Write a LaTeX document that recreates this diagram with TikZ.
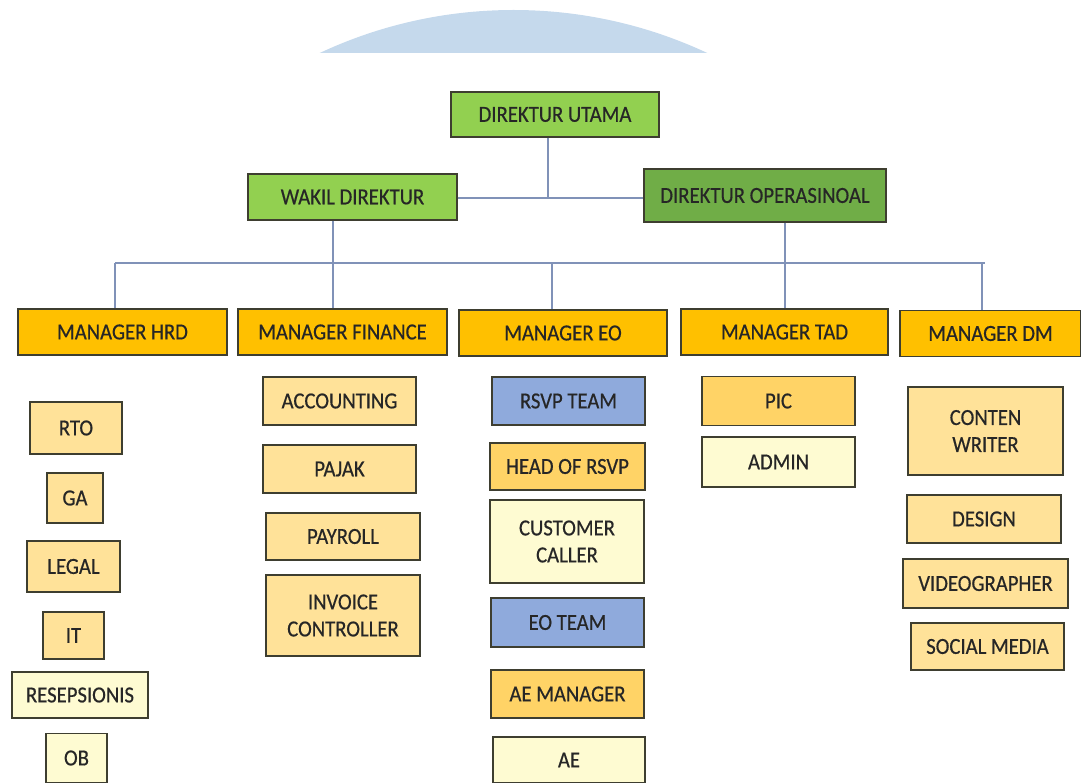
\documentclass[tikz,border=0pt]{standalone}
\usepackage{fontspec}
\setmainfont{Carlito}[FakeStretch=0.9, FakeBold=0.5]
\usepackage{xcolor}

\definecolor{hijau}{RGB}{146,208,80}
\definecolor{hijautua}{RGB}{112,173,71}
\definecolor{emas}{RGB}{255,192,0}
\definecolor{krem}{RGB}{255,226,153}
\definecolor{jingga}{RGB}{255,211,102}
\definecolor{pucat}{RGB}{254,251,210}
\definecolor{biru}{RGB}{143,170,220}
\definecolor{garis}{RGB}{128,146,184}
\definecolor{tepi}{RGB}{62,62,48}
\definecolor{tanda}{RGB}{197,217,236}

\begin{document}
\begin{tikzpicture}[
        x=1pt, y=-1pt,
        box/.style={draw=tepi, line width=1.1pt, text=black!85, align=center, inner sep=0pt, font=\fontsize{23}{27}\selectfont},
        mgr/.style={box, fill=emas, minimum height=46pt},
        sub/.style={box, fill=krem},
        link/.style={draw=garis, line width=1.3pt}
    ]
        \useasboundingbox (0,0) rectangle (1081,783);

        % watermark di atas
        \begin{scope}
            \clip (300,0) rectangle (730,53);
            \fill[tanda] (513.5,467) circle[radius=457pt];
        \end{scope}

        % direksi
        \node[box, fill=hijau, minimum width=208pt, minimum height=45pt] (dirut) at (555,114.5) {DIREKTUR UTAMA};
        \node[box, fill=hijau, minimum width=209pt, minimum height=46pt] (wakil) at (352.5,197) {WAKIL DIREKTUR};
        \node[box, fill=hijautua, minimum width=242pt, minimum height=53pt] (dirops) at (765,195.5) {DIREKTUR OPERASINOAL};

        % manager
        \node[mgr, minimum width=209pt] (hrd) at (122.5,332) {MANAGER HRD};
        \node[mgr, minimum width=209pt] (fin) at (342.5,332) {MANAGER FINANCE};
        \node[mgr, minimum width=208pt] (eo) at (563,333) {MANAGER EO};
        \node[mgr, minimum width=207pt] (tad) at (784.5,332) {MANAGER TAD};
        \node[mgr, minimum width=181pt] (dm) at (990.5,333.5) {MANAGER DM};

        % HRD
        \node[sub, minimum width=92pt, minimum height=52pt] (rto) at (76,428) {RTO};
        \node[sub, minimum width=56pt, minimum height=50pt] (ga) at (75,498) {GA};
        \node[sub, minimum width=93pt, minimum height=51pt] (legal) at (73.5,566.5) {LEGAL};
        \node[sub, minimum width=61pt, minimum height=47pt] (it) at (73.5,635.5) {IT};
        \node[sub, fill=pucat, minimum width=136pt, minimum height=46pt] (resep) at (80,695) {RESEPSIONIS};
        \node[sub, fill=pucat, minimum width=61pt, minimum height=49pt] (ob) at (76.5,758) {OB};

        % finance
        \node[sub, minimum width=153pt, minimum height=48pt] (acc) at (339.5,401) {ACCOUNTING};
        \node[sub, minimum width=153pt, minimum height=48pt] (pajak) at (339.5,469) {PAJAK};
        \node[sub, minimum width=154pt, minimum height=47pt] (payroll) at (343,536.5) {PAYROLL};
        \node[sub, minimum width=154pt, minimum height=81pt] (invoice) at (343,615.5) {INVOICE\\CONTROLLER};

        % EO
        \node[sub, fill=biru, minimum width=153pt, minimum height=48pt] (rsvp) at (568.5,401) {RSVP TEAM};
        \node[sub, fill=jingga, minimum width=155pt, minimum height=47pt] (head) at (567.5,466.5) {HEAD OF RSVP};
        \node[sub, fill=pucat, minimum width=154pt, minimum height=83pt] (caller) at (567,541.5) {CUSTOMER\\CALLER};
        \node[sub, fill=biru, minimum width=153pt, minimum height=49pt] (eoteam) at (567.5,622.5) {EO TEAM};
        \node[sub, fill=jingga, minimum width=153pt, minimum height=48pt] (aem) at (567.5,694) {AE MANAGER};
        \node[sub, fill=pucat, minimum width=152pt, minimum height=46pt] (ae) at (569,760) {AE};

        % TAD
        \node[sub, fill=jingga, minimum width=153pt, minimum height=49pt] (pic) at (778.5,401) {PIC};
        \node[sub, fill=pucat, minimum width=153pt, minimum height=50pt] (admin) at (778.5,462) {ADMIN};

        % DM
        \node[sub, minimum width=155pt, minimum height=88pt] (conten) at (985.5,431) {CONTEN\\WRITER};
        \node[sub, minimum width=154pt, minimum height=48pt] (design) at (984,519) {DESIGN};
        \node[sub, minimum width=165pt, minimum height=49pt] (video) at (985.5,583.5) {VIDEOGRAPHER};
        \node[sub, minimum width=153pt, minimum height=47pt] (social) at (987.5,646.5) {SOCIAL MEDIA};

        % garis penghubung
        \coordinate (j0) at (548,198);
        \coordinate (c1) at (115,263);
        \coordinate (c2) at (333,263);
        \coordinate (c3) at (552,263);
        \coordinate (c4) at (785,263);
        \coordinate (c5) at (982,263);
        \coordinate (c6) at (985,263);

        \draw[link] (dirut.south -| j0) -- (j0);
        \draw[link] (wakil.east |- j0) -- (dirops.west |- j0);
        \draw[link] (c1) -- (c6);
        \draw[link] (c1) -- (c1 |- hrd.north);
        \draw[link] (c2 |- wakil.south) -- (c2 |- fin.north);
        \draw[link] (c3) -- (c3 |- eo.north);
        \draw[link] (c4 |- dirops.south) -- (c4 |- tad.north);
        \draw[link] (c5) -- (c5 |- dm.north);
    \end{tikzpicture}
\end{document}
